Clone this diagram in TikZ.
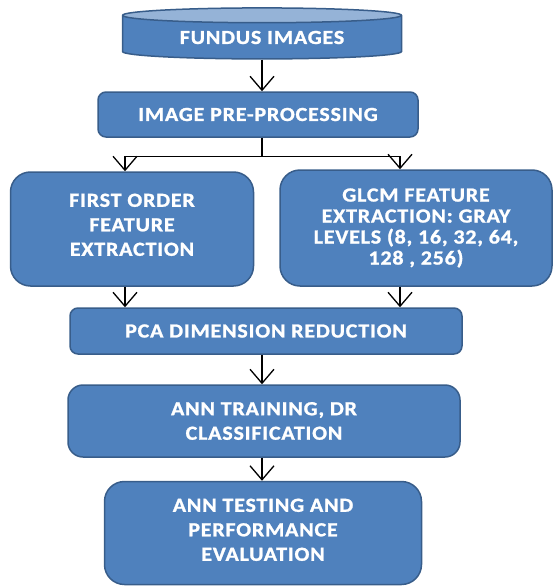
\documentclass[tikz,border=0pt]{standalone}
\usepackage{fontspec}
\usetikzlibrary{shapes.geometric,arrows.meta}
\newfontfamily\boxfont{Carlito}[FakeStretch=1.1,LetterSpace=4,FakeBold=1.2]
\definecolor{boxblue}{HTML}{4F81BD}
\definecolor{boxline}{HTML}{385D8A}
\definecolor{topblue}{HTML}{95B3D7}
\tikzset{
  stage/.style={draw=boxline, line width=1.5pt, fill=boxblue, text=white,
    align=center, inner sep=0pt, rounded corners=8pt,
    font={\boxfont\bfseries\fontsize{20}{24.5}\selectfont}},
  flow/.style={-{Straight Barb[length=14pt,width=24pt]}, line width=1.3pt},
}
\begin{document}
\begin{tikzpicture}[x=1pt,y=-1pt]
    \useasboundingbox (0,0) rectangle (553,586);
    \node[cylinder, shape border rotate=90, aspect=0.09, minimum width=279pt, minimum height=51pt,
        draw=boxline, line width=1.5pt, cylinder uses custom fill, cylinder body fill=boxblue,
        cylinder end fill=topblue, text=white, inner sep=0pt,
        font={\boxfont\bfseries\fontsize{20}{24}\selectfont}] (fundus) at (262,37.5) {\raisebox{-5pt}{FUNDUS IMAGES}};
    \node[stage, minimum width=320pt, minimum height=45pt] (prep) at (258,114.5) {IMAGE PRE-PROCESSING};
    \node[stage, rounded corners=20pt, minimum width=243pt, minimum height=114pt] (first) at (132,229) {FIRST ORDER\\FEATURE\\EXTRACTION\\[-16pt]};
    \node[stage, rounded corners=20pt, minimum width=272pt, minimum height=116pt,
        font={\boxfont\bfseries\fontsize{20}{21}\selectfont}] (glcm) at (416,228) {GLCM FEATURE\\EXTRACTION: GRAY\\LEVELS (8, 16, 32, 64,\\128 , 256)};
    \node[stage, minimum width=392pt, minimum height=46pt] (pca) at (266,331) {PCA DIMENSION REDUCTION};
    \node[stage, rounded corners=15pt, minimum width=392pt, minimum height=72pt] (train) at (264,421) {ANN TRAINING, DR\\CLASSIFICATION};
    \node[stage, rounded corners=20pt, minimum width=317pt, minimum height=103pt] (test) at (263,533) {ANN TESTING AND\\PERFORMANCE\\EVALUATION\\[-18pt]};
    % branch points
    \coordinate (split) at (262,156);
    \coordinate (lefttap) at (125,156);
    \coordinate (righttap) at (400,156);
    \draw[flow] (fundus.south) -- (fundus.south |- prep.north);
    \draw[line width=1.3pt] (split |- prep.south) -- (split);
    \draw[line width=1pt] (lefttap) -- (righttap);
    \draw[flow] (lefttap) -- (lefttap |- first.north);
    \draw[flow] (righttap) -- (righttap |- glcm.north);
    \draw[flow] (lefttap |- first.south) -- (lefttap |- pca.north);
    \draw[flow] (righttap |- glcm.south) -- (righttap |- pca.north);
    \draw[flow] (split |- pca.south) -- (split |- train.north);
    \draw[flow] (split |- train.south) -- (split |- test.north);
\end{tikzpicture}
\end{document}
